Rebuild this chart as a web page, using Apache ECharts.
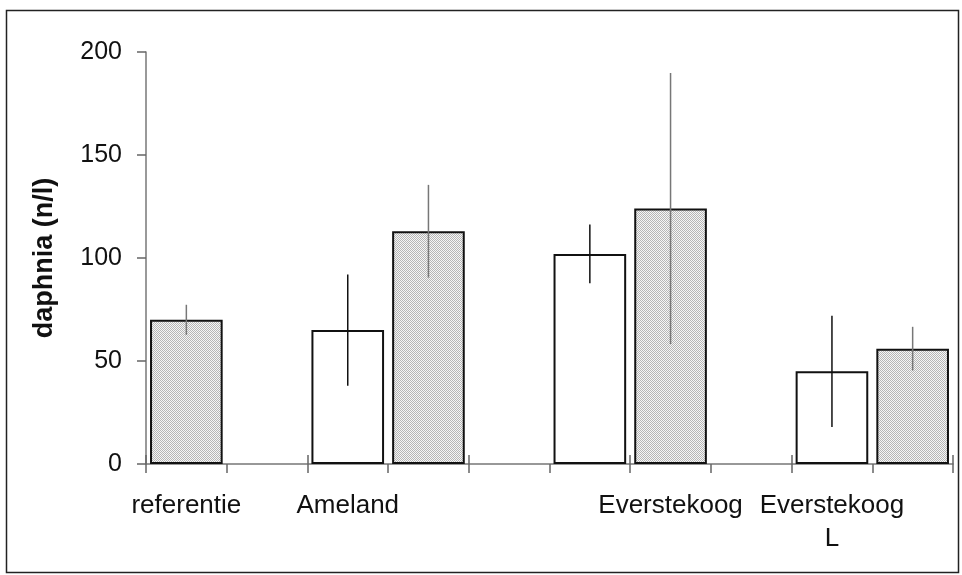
<!DOCTYPE html>
<html>
<head>
<meta charset="utf-8">
<script src="https://cdn.jsdelivr.net/npm/echarts@6/dist/echarts.min.js"></script>
<style>
  html, body { margin: 0; padding: 0; background: #fff; }
  #chart { width: 962px; height: 575px; }
</style>
</head>
<body>
<div id="chart"></div>
<script>
// Ten category slots; only some of them carry a label
const categories = ['referentie', '', 'Ameland', '', '', '', 'Everstekoog', '', 'Everstekoog\nL', ''];

// Open (white) bars and their error half-widths
const openValues = [null, null, 65, null, null, 102, null, null, 45, null];
const openErrors = [null, null, 27, null, null, 14.3, null, null, 27, null];

// Shaded bars and their error half-widths
const shadedValues = [70, null, null, 113, null, null, 124, null, null, 56];
const shadedErrors = [7.3, null, null, 22.5, null, null, 65.8, null, null, 10.6];

// Y axis ticks
const yTicks = [0, 50, 100, 150, 200];

// Fine dotted fill for the shaded bars
function dotPattern() {
  const c = document.createElement('canvas');
  c.width = 2; c.height = 2;
  const g = c.getContext('2d');
  g.fillStyle = '#f6f6f6';
  g.fillRect(0, 0, 2, 2);
  g.fillStyle = '#b6b6b6';
  g.fillRect(0, 0, 1, 1);
  g.fillRect(1, 1, 1, 1);
  return c;
}

function errorSeries(values, errors, color) {
  const data = [];
  values.forEach((v, i) => {
    if (v != null && errors[i] != null) data.push([i, v - errors[i], v + errors[i]]);
  });
  return {
    type: 'custom',
    data: data,
    z: 5,
    silent: true,
    renderItem: function (params, api) {
      const lo = api.coord([api.value(0), api.value(1)]);
      const hi = api.coord([api.value(0), api.value(2)]);
      return {
        type: 'line',
        shape: { x1: lo[0], y1: lo[1], x2: hi[0], y2: hi[1] },
        style: { stroke: color, lineWidth: 1.5 }
      };
    }
  };
}

const font = "'Liberation Sans', Arial, sans-serif";
const chart = echarts.init(document.getElementById('chart'), null, { renderer: 'canvas' });

chart.setOption({
  animation: false,
  backgroundColor: '#fff',
  grid: { left: 146, right: 9, top: 52, bottom: 111, containLabel: false },
  xAxis: [
    {
      type: 'category',
      data: categories,
      position: 'bottom',
      boundaryGap: true,
      axisLine: { lineStyle: { color: '#777', width: 1.5 } },
      axisTick: { show: true, inside: false, length: 9, lineStyle: { color: '#666', width: 1.5 } },
      axisLabel: {
        interval: 0, margin: 25, color: '#111',
        fontFamily: font, fontSize: 26, lineHeight: 33
      },
      splitLine: { show: false }
    },
    {
      type: 'category',
      data: categories,
      position: 'bottom',
      boundaryGap: true,
      axisLine: { show: false },
      axisTick: { show: true, inside: true, length: 9, lineStyle: { color: '#666', width: 1.5 } },
      axisLabel: { show: false },
      splitLine: { show: false }
    }
  ],
  yAxis: {
    type: 'value',
    min: yTicks[0],
    max: yTicks[yTicks.length - 1],
    interval: yTicks[1] - yTicks[0],
    name: 'daphnia (n/l)',
    nameLocation: 'middle',
    nameGap: 88,
    nameTextStyle: { fontFamily: font, fontSize: 27, fontWeight: 'bold', color: '#111' },
    axisLine: { show: true, lineStyle: { color: '#777', width: 1.5 } },
    axisTick: { show: true, length: 9, lineStyle: { color: '#666', width: 1.5 } },
    axisLabel: { margin: 24, color: '#111', fontFamily: font, fontSize: 25 },
    splitLine: { show: false }
  },
  series: [
    {
      type: 'bar',
      data: openValues,
      barWidth: '90%',
      barGap: '-100%',
      itemStyle: { color: '#fff', borderColor: '#111', borderWidth: 2 },
      z: 2
    },
    {
      type: 'bar',
      data: shadedValues,
      barWidth: '90%',
      barGap: '-100%',
      itemStyle: { color: { image: dotPattern(), repeat: 'repeat' }, borderColor: '#111', borderWidth: 2 },
      z: 2
    },
    errorSeries(openValues, openErrors, '#111'),
    errorSeries(shadedValues, shadedErrors, '#777')
  ],
  graphic: [
    {
      type: 'rect',
      shape: { x: 6.5, y: 10.5, width: 952, height: 562 },
      style: { fill: null, stroke: '#222', lineWidth: 1.5 },
      silent: true,
      z: 100
    }
  ]
});
</script>
</body>
</html>
